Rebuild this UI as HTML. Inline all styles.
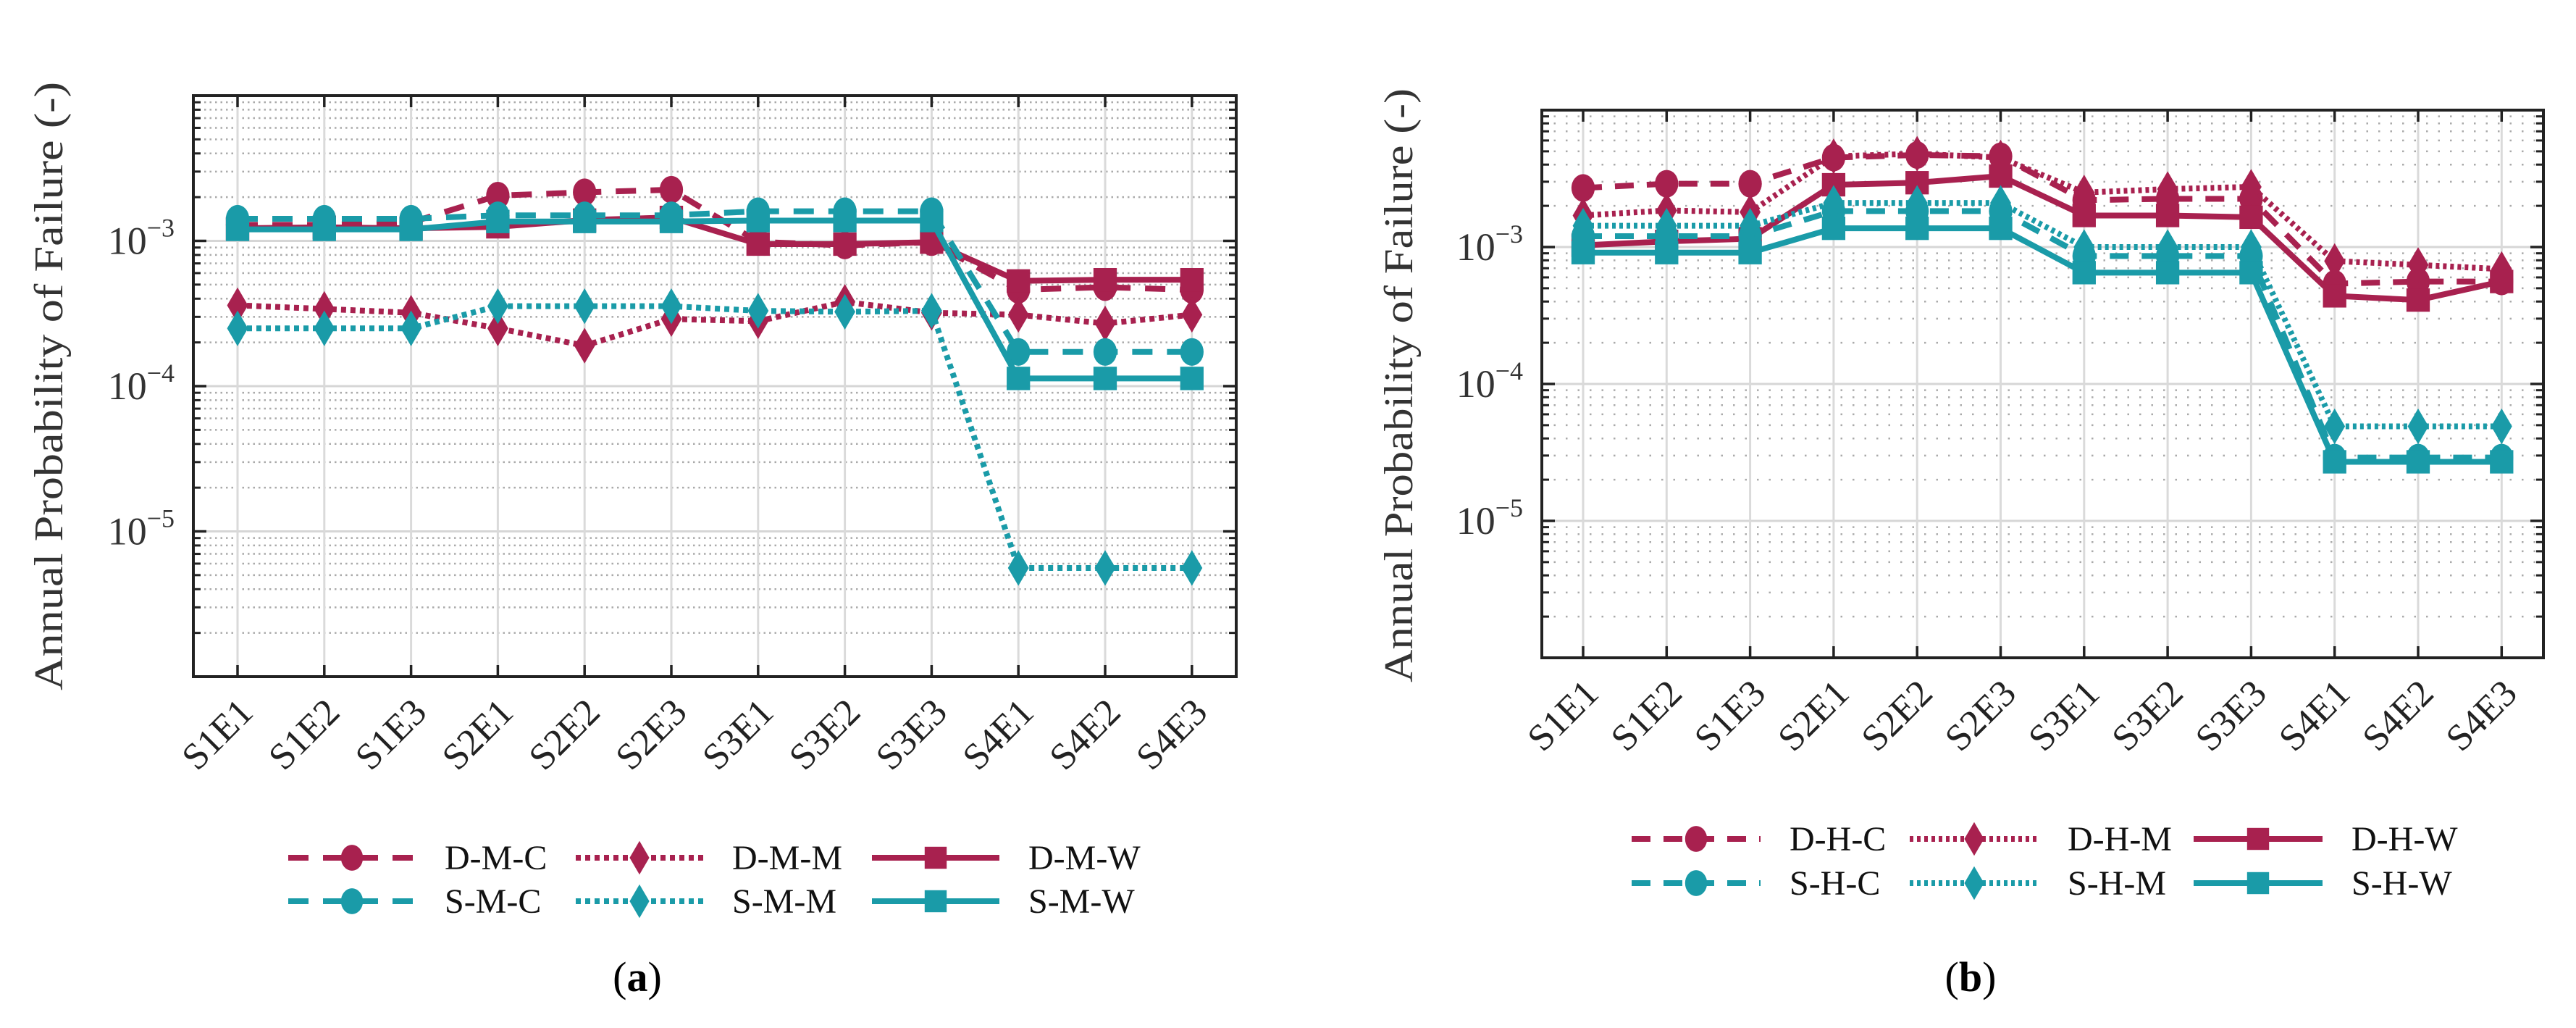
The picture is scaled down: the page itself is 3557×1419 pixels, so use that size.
<!DOCTYPE html>
<html><head><meta charset="utf-8"><style>
html,body{margin:0;padding:0;background:#fff;}
svg{display:block;font-family:"Liberation Serif","Times New Roman",serif;}
svg text{font-family:"Liberation Serif","Times New Roman",serif;}
</style></head><body>
<svg id="fig" width="3557" height="1419" viewBox="0 0 3557 1419" xmlns="http://www.w3.org/2000/svg">
<rect width="3557" height="1419" fill="#fff"/>
<g id="panelA"></g>
<g id="panelB"></g>
<text x="880" y="1368" font-size="58" font-family="Liberation Serif, serif" text-anchor="middle" fill="#000">(<tspan font-weight="bold">a</tspan>)</text>
<text x="2721" y="1368" font-size="58" font-family="Liberation Serif, serif" text-anchor="middle" fill="#000">(<tspan font-weight="bold">b</tspan>)</text>
</svg>
<script>
const categories = ["S1E1","S1E2","S1E3","S2E1","S2E2","S2E3","S3E1","S3E2","S3E3","S4E1","S4E2","S4E3"];
const yTickExponents = [-3,-4,-5];
// Panel (a) series
const namesA = ["D-M-C","D-M-M","D-M-W","S-M-C","S-M-M","S-M-W"];
const aDMC = [1.29e-3,1.29e-3,1.34e-3,2.05e-3,2.16e-3,2.25e-3,0.985e-3,0.93e-3,0.98e-3,4.6e-4,4.8e-4,4.6e-4];
const aDMM = [3.6e-4,3.4e-4,3.2e-4,2.5e-4,1.9e-4,2.9e-4,2.8e-4,3.8e-4,3.2e-4,3.1e-4,2.7e-4,3.1e-4];
const aDMW = [1.22e-3,1.24e-3,1.22e-3,1.25e-3,1.39e-3,1.45e-3,0.95e-3,0.95e-3,0.98e-3,5.3e-4,5.4e-4,5.4e-4];
const aSMC = [1.42e-3,1.42e-3,1.42e-3,1.5e-3,1.5e-3,1.5e-3,1.6e-3,1.6e-3,1.6e-3,1.72e-4,1.72e-4,1.72e-4];
const aSMM = [2.5e-4,2.5e-4,2.5e-4,3.55e-4,3.55e-4,3.55e-4,3.3e-4,3.25e-4,3.3e-4,5.6e-6,5.6e-6,5.6e-6];
const aSMW = [1.2e-3,1.2e-3,1.2e-3,1.36e-3,1.36e-3,1.36e-3,1.38e-3,1.38e-3,1.38e-3,1.13e-4,1.13e-4,1.13e-4];
// Panel (b) series
const namesB = ["D-H-C","D-H-M","D-H-W","S-H-C","S-H-M","S-H-W"];
const bDHC = [2.7e-3,2.9e-3,2.9e-3,4.5e-3,4.7e-3,4.6e-3,2.2e-3,2.25e-3,2.25e-3,5.4e-4,5.6e-4,5.6e-4];
const bDHM = [1.7e-3,1.85e-3,1.8e-3,4.6e-3,4.8e-3,4.5e-3,2.5e-3,2.65e-3,2.75e-3,7.9e-4,7.4e-4,6.9e-4];
const bDHW = [1.03e-3,1.1e-3,1.15e-3,2.85e-3,2.95e-3,3.3e-3,1.7e-3,1.7e-3,1.65e-3,4.4e-4,4.1e-4,5.6e-4];
const bSHC = [1.2e-3,1.2e-3,1.2e-3,1.83e-3,1.83e-3,1.83e-3,8.6e-4,8.6e-4,8.6e-4,2.9e-5,2.9e-5,2.9e-5];
const bSHM = [1.43e-3,1.43e-3,1.43e-3,2.1e-3,2.1e-3,2.1e-3,1.0e-3,1.0e-3,1.0e-3,4.9e-5,4.9e-5,4.9e-5];
const bSHW = [9.1e-4,9.1e-4,9.1e-4,1.37e-3,1.37e-3,1.37e-3,6.5e-4,6.5e-4,6.5e-4,2.7e-5,2.7e-5,2.7e-5];

const NS="http://www.w3.org/2000/svg";
const MAG="#A8214F", TEAL="#1A9BA8";
const FONT="Liberation Serif, Times New Roman, serif";
function mk(tag,attrs,parent){const e=document.createElementNS(NS,tag);for(const k in attrs)e.setAttribute(k,attrs[k]);if(tag==="text")e.setAttribute("font-family",FONT);parent.appendChild(e);return e;}

function marker(g,type,x,y,color,s){
  let e;
  if(type==="c"){e=mk("ellipse",{cx:x,cy:y,rx:s*0.95,ry:s*1.12,fill:color},g);}
  else if(type==="d"){e=mk("polygon",{points:`${x},${y-s*1.45} ${x+s*0.85},${y} ${x},${y+s*1.45} ${x-s*0.85},${y}`,fill:color},g);}
  else {e=mk("rect",{x:x-s*0.95,y:y-s*0.95,width:s*1.9,height:s*1.9,fill:color},g);}
  
  
}

function drawPanel(g,P,names,series,styles,dotGap,leg,titleX,titleY,titleLen){
  const {L,T,R,B,x0,dx}=P;
  const yMin=-6,yMax=-2;
  const ys=v=>B-(Math.log10(v)-yMin)/(yMax-yMin)*(B-T);
  const xs=i=>x0+i*dx;
  const grid=mk("g",{},g);
  
  
  for(let d=-6;d<-2;d++){
    for(let m=2;m<=9;m++){
      const y=ys(m*Math.pow(10,d));
      mk("line",{x1:L,x2:R,y1:y,y2:y,stroke:"#aaa","stroke-width":2.5,"stroke-dasharray":`2.5 ${dotGap}`},grid);
      mk("line",{x1:L,x2:L+10,y1:y,y2:y,stroke:"#222","stroke-width":3},grid);
      mk("line",{x1:R-10,x2:R,y1:y,y2:y,stroke:"#222","stroke-width":3},grid);
    }
  }
  for(let d=-5;d<=-3;d++){
    const y=ys(Math.pow(10,d));
    mk("line",{x1:L,x2:R,y1:y,y2:y,stroke:"#d6d6d6","stroke-width":3},grid);
    mk("line",{x1:L,x2:L+18,y1:y,y2:y,stroke:"#222","stroke-width":3.5},grid);
    mk("line",{x1:R-18,x2:R,y1:y,y2:y,stroke:"#222","stroke-width":3.5},grid);
  }
  categories.forEach((c,i)=>{
    const x=xs(i);
    mk("line",{x1:x,x2:x,y1:T,y2:B,stroke:"#dadada","stroke-width":3},grid);
    mk("line",{x1:x,x2:x,y1:T,y2:T+16,stroke:"#222","stroke-width":3.5},grid);
    mk("line",{x1:x,x2:x,y1:B-16,y2:B,stroke:"#222","stroke-width":3.5},grid);
    const t=mk("text",{x:x+24,y:B+52,"font-size":52,"text-anchor":"end",fill:"#222",transform:`rotate(-45 ${x+24} ${B+52})`},g);
    t.textContent=c;
    
    
  });
  yTickExponents.forEach(e=>{
    const y=ys(Math.pow(10,e));
    const t=mk("text",{x:L-26,y:y+18,"font-size":54,"text-anchor":"end",fill:"#333"},g);
    t.innerHTML=`10<tspan dy="-24" font-size="36">−${-e}</tspan>`;
    
    
  });
  const title=mk("text",{x:titleX,y:titleY,"font-size":56,"text-anchor":"middle",fill:"#333",transform:`rotate(-90 ${titleX} ${titleY})`,textLength:titleLen,lengthAdjust:"spacingAndGlyphs"},g);
  title.textContent="Annual Probability of Failure (-)";
  
  
  series.forEach((vals,si)=>{
    const st=styles[si];
    const sg=mk("g",{},g);
    
    
    const pts=vals.map((v,i)=>`${xs(i)},${ys(v)}`).join(" ");
    mk("polyline",{points:pts,fill:"none",stroke:st.color,"stroke-width":8,"stroke-dasharray":st.dash,"stroke-linejoin":"round"},sg);
    vals.forEach((v,i)=>marker(sg,st.m,xs(i),ys(v),st.color,17));
  });
  mk("rect",{x:L,y:T,width:R-L,height:B-T,fill:"none",stroke:"#222","stroke-width":4},g);
  const lg=mk("g",{},g);
  
  
  names.forEach((n,si)=>{
    const st=styles[si];
    const col=si%3,row=Math.floor(si/3);
    const x1=leg.cols[col], y=leg.rows[row], x2=x1+leg.len, xm=(x1+x2)/2;
    const eg=mk("g",{},lg);
    
    
    mk("line",{x1:x1,x2:x2,y1:y,y2:y,stroke:st.color,"stroke-width":8,"stroke-dasharray":st.dash},eg);
    marker(eg,st.m,xm,y,st.color,16);
    const t=mk("text",{x:x2+40,y:y+16,"font-size":48,fill:"#111"},eg);
    t.textContent=n;
  });
}
const stylesFor=(dash,dot)=>[
  {color:MAG,dash:dash,m:"c"},{color:MAG,dash:dot,m:"d"},{color:MAG,dash:"none",m:"s"},
  {color:TEAL,dash:dash,m:"c"},{color:TEAL,dash:dot,m:"d"},{color:TEAL,dash:"none",m:"s"}];
drawPanel(document.getElementById("panelA"),{L:267,T:132,R:1707,B:934,x0:328,dx:119.8},namesA,
  [aDMC,aDMM,aDMW,aSMC,aSMM,aSMW],stylesFor("28 20","7 6"),5,
  {cols:[398,795,1204],rows:[1184,1244],len:176},86,533,840);
drawPanel(document.getElementById("panelB"),{L:2129,T:152,R:3512,B:908,x0:2186,dx:115.3},namesB,
  [bDHC,bDHM,bDHW,bSHC,bSHM,bSHW],stylesFor("26 18","5 5"),14,
  {cols:[2253,2637,3029],rows:[1158,1219],len:178},1950,532,820);
</script>
</body></html>
